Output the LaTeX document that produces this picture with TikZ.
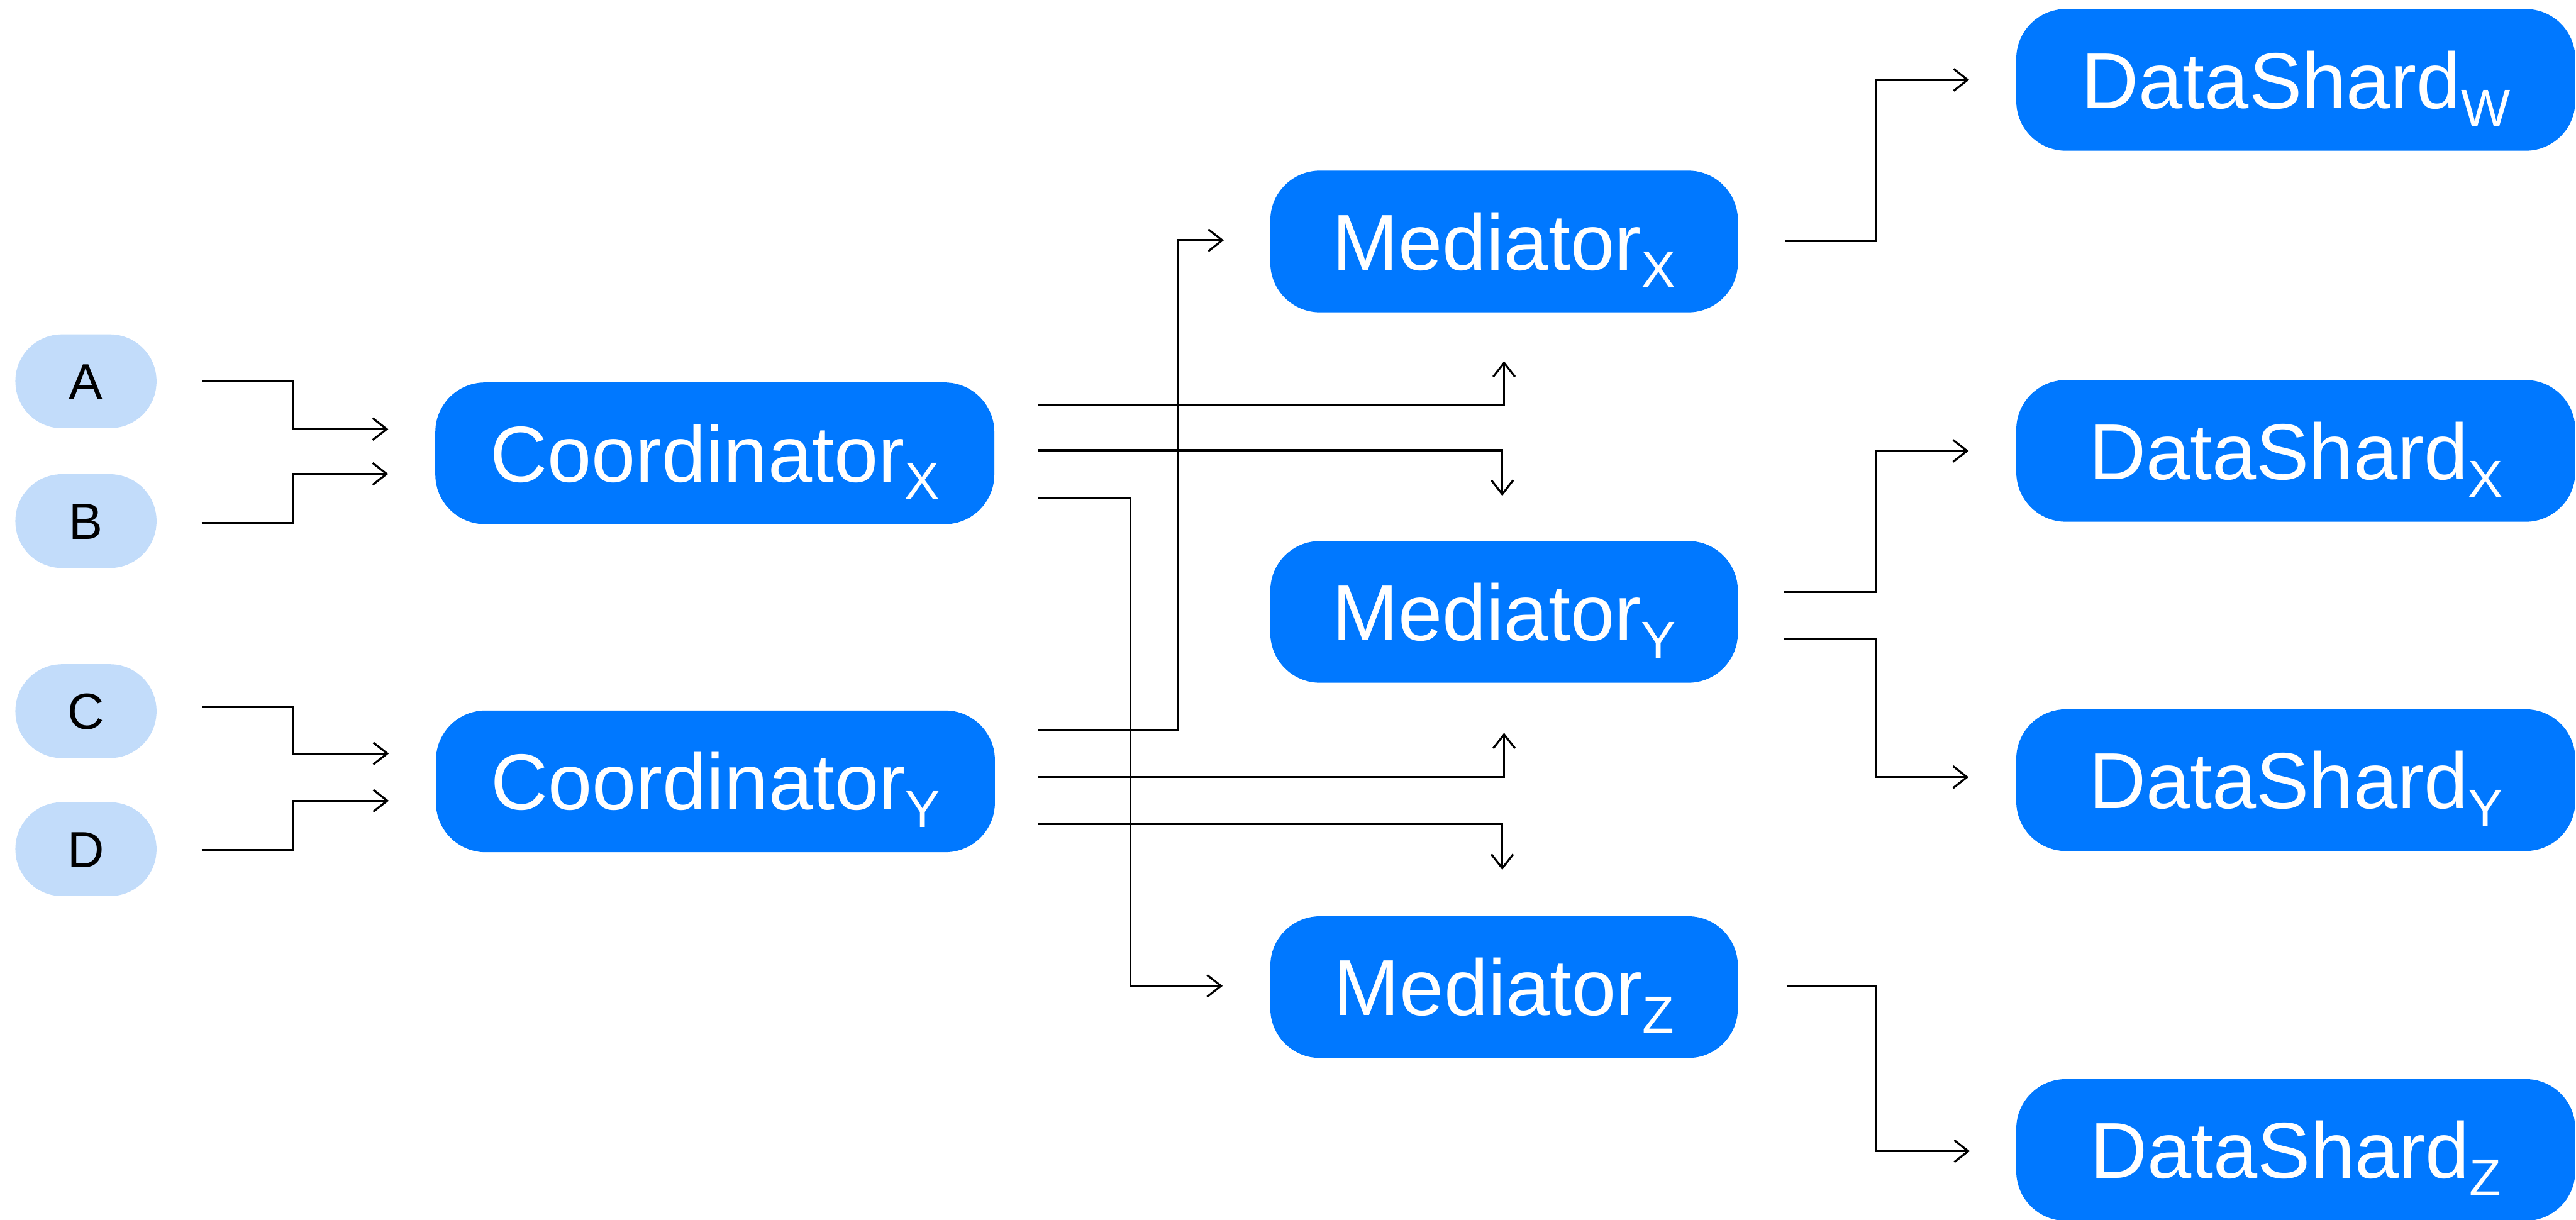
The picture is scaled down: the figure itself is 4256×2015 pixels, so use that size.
\documentclass[tikz,border=0pt]{standalone}
\usepackage{fontspec}
\setmainfont{Liberation Sans}
\usetikzlibrary{calc,arrows.meta}

\definecolor{nodeblue}{HTML}{0078FF}
\definecolor{inputblue}{HTML}{C2DCFA}

% subscript set below the baseline without changing the box height
\newcommand{\subtag}[1]{\raisebox{-8.25pt}[0pt][0pt]{\fontsize{24.5}{24.5}\selectfont #1}}

\tikzset{
  mainbox/.style={draw=none, fill=nodeblue, text=white, rounded corners=0.82cm,
    minimum height=2.34cm, inner sep=0pt, text height=26.7pt, text depth=0pt,
    font=\fontsize{37.3}{40}\selectfont},
  widebox/.style={mainbox, minimum width=9.23cm},
  medbox/.style={mainbox, minimum width=7.72cm},
  inbox/.style={draw=none, fill=inputblue, text=black, rounded corners=0.77cm,
    minimum width=2.33cm, minimum height=1.55cm, inner sep=0pt,
    text height=17.1pt, text depth=0pt, font=\fontsize{23.9}{26}\selectfont},
  arr/.style={line width=0.95pt, line join=miter,
    -{Straight Barb[length=0.23cm, width=0.36cm, line width=0.95pt]}},
}

\begin{document}
\begin{tikzpicture}[x=0.01cm, y=-0.01cm]
  \useasboundingbox (0,0) rectangle (4256,2015);

  % inputs
  \node[inbox] (A) at (142,630) {A};
  \node[inbox] (B) at (142,861) {B};
  \node[inbox] (C) at (142,1175) {C};
  \node[inbox] (D) at (142,1403) {D};

  % coordinators
  \node[widebox] (cx) at (1181,749) {Coordinator\subtag{X}};
  \node[widebox] (cy) at (1182,1291) {Coordinator\subtag{Y}};

  % mediators
  \node[medbox] (mx) at (2485,399) {Mediator\subtag{X}};
  \node[medbox] (my) at (2485,1011) {Mediator\subtag{Y}};
  \node[medbox] (mz) at (2485,1631) {Mediator\subtag{Z}};

  % data shards
  \node[widebox] (dw) at (3793,132) {DataShard\subtag{W}};
  \node[widebox] (dx) at (3793,745) {DataShard\subtag{X}};
  \node[widebox] (dy) at (3793,1289) {DataShard\subtag{Y}};
  \node[widebox] (dz) at (3793,1900) {DataShard\subtag{Z}};

  % inputs to coordinators
  \draw[arr] ($(A.east)+(74,-1)$) -- ++(151,0) |- ($(cx.west)+(-77,-40)$);
  \draw[arr] ($(B.east)+(74,3)$) -- ++(151,0) |- ($(cx.west)+(-77,34)$);
  \draw[arr] ($(C.east)+(74,-7)$) -- ++(151,0) |- ($(cy.west)+(-77,-46)$);
  \draw[arr] ($(D.east)+(74,1)$) -- ++(151,0) |- ($(cy.west)+(-77,32)$);

  % coordinator X outputs
  \draw[arr] ($(cx.east)+(71,-79)$) -| ($(mx.south)+(0,80)$);
  \draw[arr] ($(cx.east)+(71,-5)$) -| ($(my.north)+(-3,-74)$);
  \draw[arr] ($(cx.east)+(71,74)$) -- ++(153,0) |- ($(mz.west)+(-78,-2)$);

  % coordinator Y outputs
  \draw[arr] ($(cy.east)+(71,-85)$) -- ++(230,0) |- ($(mx.west)+(-76,-2)$);
  \draw[arr] ($(cy.east)+(71,-7)$) -| ($(my.south)+(0,82)$);
  \draw[arr] ($(cy.east)+(71,71)$) -| ($(mz.north)+(-3,-76)$);

  % mediators to data shards
  \draw[arr] ($(mx.east)+(77,-1)$) -- ++(151,0) |- ($(dw.west)+(-77,0)$);
  \draw[arr] ($(my.east)+(76,-33)$) -- ++(152,0) |- ($(dx.west)+(-78,0)$);
  \draw[arr] ($(my.east)+(76,45)$) -- ++(152,0) |- ($(dy.west)+(-78,-5)$);
  \draw[arr] ($(mz.east)+(80,-1)$) -- ++(147,0) |- ($(dz.west)+(-76,2)$);
\end{tikzpicture}
\end{document}
